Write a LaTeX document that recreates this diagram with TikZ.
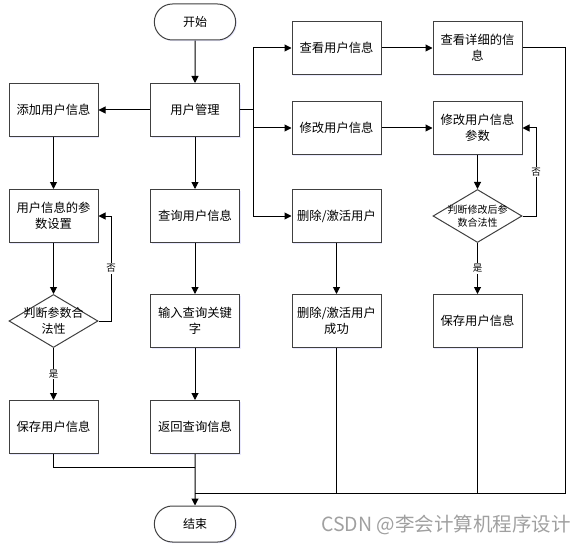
\documentclass[tikz,border=0pt]{standalone}
\usepackage{fontspec}
\setmainfont{Noto Sans CJK SC}
\usetikzlibrary{shapes.geometric,shapes.misc,arrows.meta,shadows}
\definecolor{boxline}{HTML}{404040}
\definecolor{wm}{HTML}{A0A0A0}
\tikzset{
  boxnode/.style={draw=boxline,line width=1pt,minimum width=89pt,minimum height=53pt,inner sep=1pt,align=center,font=\fontsize{12.3}{16}\selectfont,fill=white,
    drop shadow={shadow xshift=1.2pt,shadow yshift=-1.2pt,fill=blue!25,opacity=.35}},
  termnode/.style={draw=boxline,line width=1pt,rounded rectangle,minimum width=88pt,minimum height=36pt,font=\fontsize{12}{14}\selectfont,fill=white,
    drop shadow={shadow xshift=1.2pt,shadow yshift=-1.2pt,fill=blue!25,opacity=.35}},
  dianode/.style={draw=boxline,line width=1pt,diamond,aspect=1.68,minimum width=89pt,minimum height=53pt,inner sep=0pt,fill=white},
  diatext/.style={align=center,inner sep=0pt},
  arr/.style={line width=1pt,-{Triangle[length=7pt,width=7pt]}},
  ln/.style={line width=1pt},
  lab/.style={font=\fontsize{9.5}{10}\selectfont,fill=white,inner sep=1pt}
}
\begin{document}
\begin{tikzpicture}[x=1pt,y=-1pt]
\useasboundingbox (0,0) rectangle (585,548);
% nodes
\node[termnode] (start) at (195,22) {开始};
\node[boxnode] (um) at (195,110) {用户管理};
\node[boxnode] (add) at (53.5,110) {添加用户信息};
\node[boxnode] (view) at (336.5,48) {查看用户信息};
\node[boxnode] (viewd) at (477.5,48) {查看详细的信\\息};
\node[boxnode] (mod) at (336.5,128) {修改用户信息};
\node[boxnode] (modp) at (477.5,128) {修改用户信息\\参数};
\node[boxnode] (param) at (53.5,216) {用户信息的参\\数设置};
\node[boxnode] (query) at (195,216) {查询用户信息};
\node[boxnode] (del) at (336.5,216) {删除/激活用户};
\node[dianode] (d2) at (477.5,216) {};
\node[diatext,font=\fontsize{10}{13}\selectfont] (d2t) at (477.5,216) {判断修改后参\\数合法性};
\node[dianode] (d1) at (53.5,321) {};
\node[diatext,font=\fontsize{12}{16}\selectfont] (d1t) at (53.5,321) {判断参数合\\法性};
\node[boxnode] (input) at (195,321) {输入查询关键\\字};
\node[boxnode] (delok) at (336.5,321) {删除/激活用户\\成功};
\node[boxnode] (saveR) at (477.5,321) {保存用户信息};
\node[boxnode] (saveL) at (53.5,427) {保存用户信息};
\node[boxnode] (ret) at (195,427) {返回查询信息};
\node[termnode] (end) at (195,524) {结束};
\node[font=\fontsize{19.5}{22}\selectfont,text=wm,anchor=east,inner sep=0pt] (wmk) at (571,525) {CSDN @李会计算机程序设计};
% coordinates
\coordinate (bx) at (253,110);
\coordinate (jl) at (195,467);
\coordinate (jr) at (195,493);
\coordinate (rc) at (565,48);
\coordinate (rb) at (565,493);
\coordinate (lq) at (111,321);
\coordinate (rq) at (536,216);
% connectors
\draw[arr] (start) -- (um);
\draw[arr] (um) -- (add);
\draw[ln] (um.east) -- (bx);
\draw[arr] (bx) |- (view.west);
\draw[arr] (bx) |- (mod.west);
\draw[arr] (bx) |- (del.west);
\draw[arr] (view) -- (viewd);
\draw[arr] (mod) -- (modp);
\draw[arr] (modp) -- (d2);
\draw[arr] (d2.east) -- (rq) |- (modp.east) node[lab,pos=0.25] (no2) {否};
\draw[arr] (d2.south) -- (saveR.north) node[lab,midway] (yes2) {是};
\draw[arr] (add) -- (param);
\draw[arr] (param) -- (d1.north);
\draw[arr] (d1.south) -- (saveL.north) node[lab,midway] (yes1) {是};
\draw[arr] (d1.east) -- (lq) |- (param.east) node[lab,pos=0.25] (no1) {否};
\draw[arr] (um) -- (query);
\draw[arr] (query) -- (input);
\draw[arr] (input) -- (ret);
\draw[arr] (del) -- (delok);
\draw[arr] (ret) -- (end);
\draw[ln] (saveL.south) |- (jl);
\draw[ln] (delok.south) -- (delok.south |- jr);
\draw[ln] (saveR.south) -- (saveR.south |- jr);
\draw[ln] (viewd.east) -- (rc) -- (rb) -- (jr);
\end{tikzpicture}
\end{document}
